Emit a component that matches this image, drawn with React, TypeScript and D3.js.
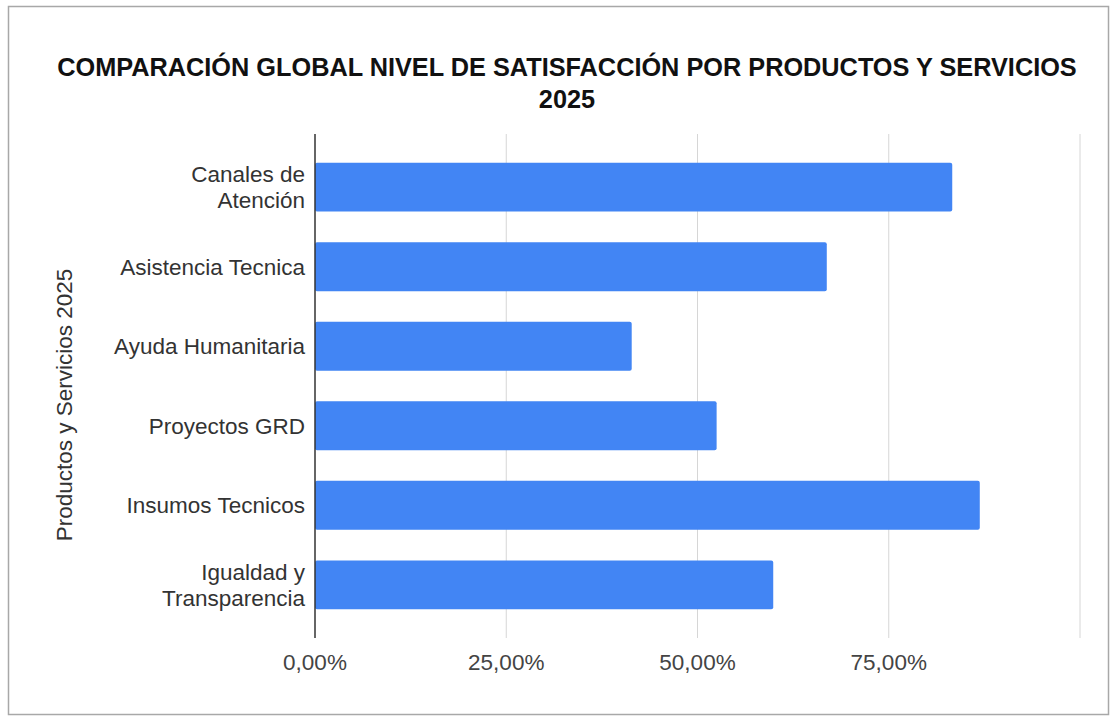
import React from "react";
import * as d3 from "d3";

const categories: string[][] = [
  ["Canales de", "Atención"],
  ["Asistencia Tecnica"],
  ["Ayuda Humanitaria"],
  ["Proyectos GRD"],
  ["Insumos Tecnicos"],
  ["Igualdad y", "Transparencia"],
];
const values: number[] = [0.833, 0.669, 0.414, 0.525, 0.869, 0.599];
const xTicks: number[] = [0, 0.25, 0.5, 0.75, 1];
const titleLines: string[] = [
  "COMPARACIÓN GLOBAL NIVEL DE SATISFACCIÓN POR PRODUCTOS Y SERVICIOS",
  "2025",
];
const yAxisTitle = "Productos y Servicios 2025";

const W = 1112;
const H = 717;
const plot = { left: 315, right: 1080, top: 134, bottom: 638 };

export default function App() {
  const x = d3.scaleLinear().domain([0, 1]).range([plot.left, plot.right]);
  const y = d3
    .scaleBand<number>()
    .domain(d3.range(categories.length))
    .range([plot.top, plot.bottom])
    .paddingInner(0.385)
    .paddingOuter(0.36);
  const fmt = (v: number) => (v * 100).toFixed(2).replace(".", ",") + "%";
  const labelFont = "'Liberation Sans', Arial, sans-serif";
  const fs = 22.5;

  return (
    <svg
      width={W}
      height={H}
      style={{ position: "absolute", left: 0, top: 0, background: "#fff" }}
    >
      <rect x={0} y={0} width={W} height={H} fill="#fff" />
      <rect
        x={8.5}
        y={6.5}
        width={1100}
        height={708}
        fill="#fff"
        stroke="#a8a8a8"
        strokeWidth={1.5}
      />
      {titleLines.map((t, i) => (
        <text
          key={i}
          x={567}
          y={76 + i * 32}
          textAnchor="middle"
          fontFamily="'Liberation Sans', Arial, sans-serif"
          fontWeight="bold"
          fontSize={25.3}
          fill="#111"
        >
          {t}
        </text>
      ))}
      {xTicks.slice(1).map((t) => (
        <line
          key={t}
          x1={x(t)}
          x2={x(t)}
          y1={plot.top}
          y2={plot.bottom}
          stroke="#d6d6d6"
          strokeWidth={1}
        />
      ))}
      {values.map((v, i) => (
        <rect
          key={i}
          x={x(0)}
          y={y(i)}
          width={x(v) - x(0)}
          height={y.bandwidth()}
          rx={2}
          fill="#4285f4"
        />
      ))}
      <line
        x1={x(0)}
        x2={x(0)}
        y1={plot.top}
        y2={plot.bottom}
        stroke="#333"
        strokeWidth={1.5}
      />
      {xTicks.slice(0, 4).map((t) => (
        <text
          key={t}
          x={x(t)}
          y={670}
          textAnchor="middle"
          fontFamily={labelFont}
          fontSize={fs}
          fill="#444"
        >
          {fmt(t)}
        </text>
      ))}
      {categories.map((lines, i) => {
        const cy = (y(i) as number) + y.bandwidth() / 2;
        const lh = 26;
        const start = cy - ((lines.length - 1) * lh) / 2;
        return lines.map((l, j) => (
          <text
            key={i + "-" + j}
            x={305}
            y={start + j * lh}
            dy="0.36em"
            textAnchor="end"
            fontFamily={labelFont}
            fontSize={fs}
            fill="#333"
          >
            {l}
          </text>
        ));
      })}
      <text
        transform={`translate(72,405) rotate(-90)`}
        textAnchor="middle"
        fontFamily={labelFont}
        fontSize={fs}
        fill="#333"
      >
        {yAxisTitle}
      </text>
    </svg>
  );
}
